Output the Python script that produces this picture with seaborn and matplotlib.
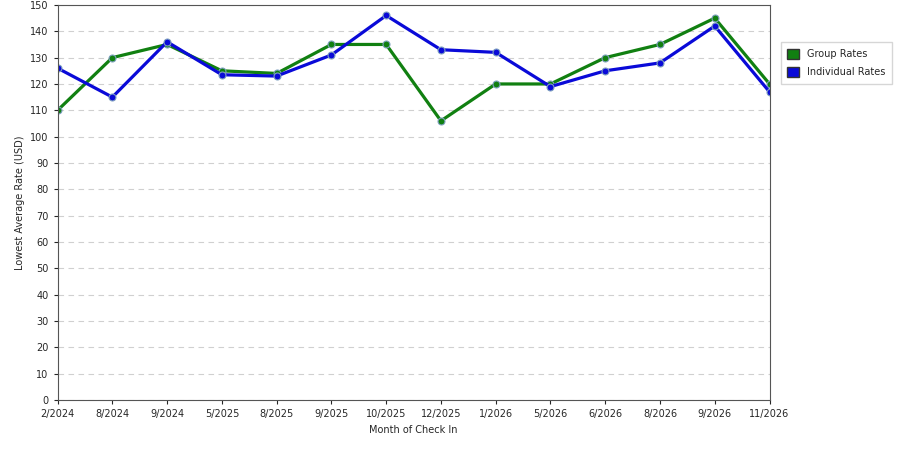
import matplotlib
matplotlib.use("Agg")
import matplotlib.pyplot as plt
import seaborn as sns
import pandas as pd
from matplotlib.patches import Patch

months = ["2/2024","8/2024","9/2024","5/2025","8/2025","9/2025","10/2025","12/2025",
          "1/2026","5/2026","6/2026","8/2026","9/2026","11/2026"]
group_rates = [110,130,135,125,124,135,135,106,120,120,130,135,145,120]
individual_rates = [126,115,136,123.5,123,131,146,133,132,119,125,128,142,117]

df = pd.DataFrame({"x": list(range(len(months)))*2,
                   "rate": group_rates + individual_rates,
                   "series": ["Group Rates"]*len(months) + ["Individual Rates"]*len(months)})

sns.set_style("white")
fig = plt.figure(figsize=(9, 4.5), dpi=100)
ax = fig.add_axes([0.064, 0.111, 0.791, 0.878])
palette = {"Group Rates": "#118011", "Individual Rates": "#0a0ad8"}
sns.lineplot(data=df, x="x", y="rate", hue="series", palette=palette, ax=ax,
             linewidth=2.3, marker="o", markersize=5, markeredgecolor="#7fa0c0",
             markeredgewidth=0.8, legend=False)
ax.set_xlim(0, len(months)-1)
ax.set_ylim(0, 150)
ax.set_xticks(range(len(months)))
ax.set_xticklabels(months, fontsize=7)
ax.set_yticks(range(0, 151, 10))
ax.tick_params(axis="y", labelsize=7, length=3, left=True)
ax.tick_params(axis="x", length=3, bottom=True)
ax.yaxis.grid(True, linestyle=(0, (5, 4)), color="#d0d0d0", linewidth=0.8)
for s in ax.spines.values():
    s.set_color("#555555")
ax.set_xlabel("Month of Check In", fontsize=7)
ax.set_ylabel("Lowest Average Rate (USD)", fontsize=7)
handles = [Patch(facecolor=palette[k], edgecolor="#333333", label=k) for k in palette]
fig.legend(handles=handles, loc="upper left", bbox_to_anchor=(0.862, 0.918),
           fontsize=7, frameon=True, edgecolor="#cccccc", fancybox=False,
           handlelength=1.2, handleheight=1.2, borderpad=0.7, labelspacing=0.8)
fig.savefig("out.png", dpi=100)
